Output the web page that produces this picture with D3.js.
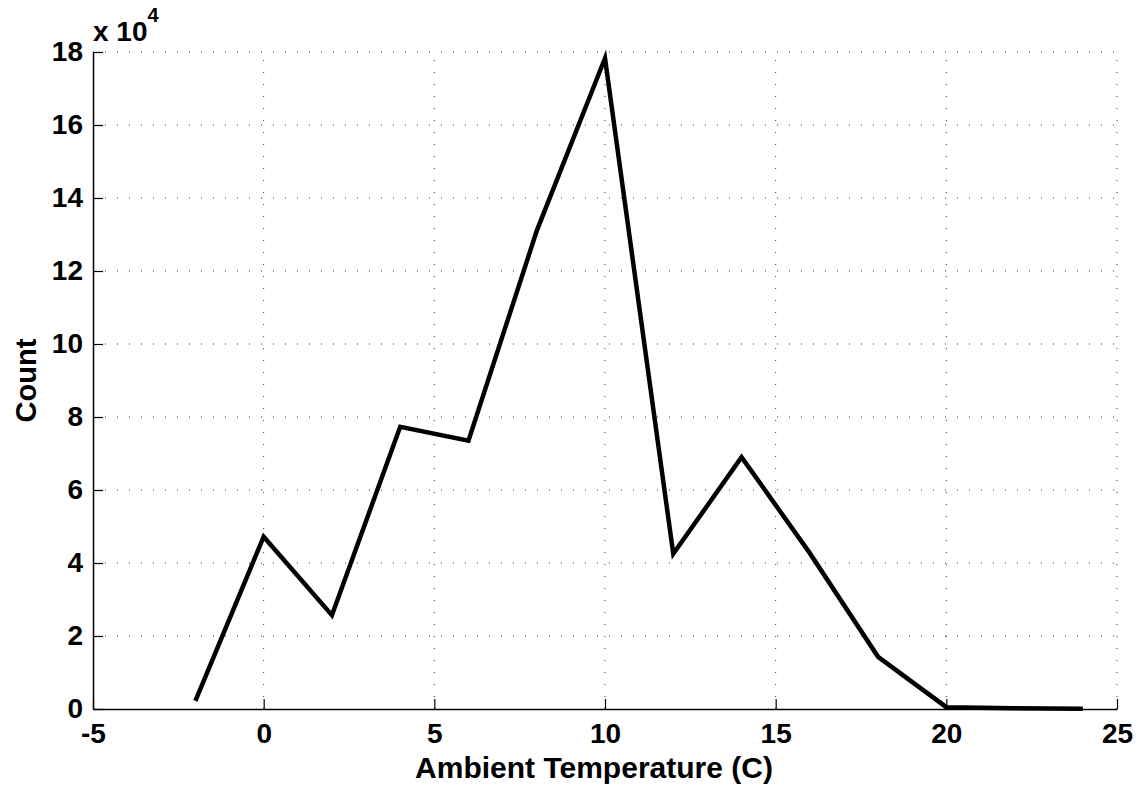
<!DOCTYPE html>
<html>
<head>
<meta charset="utf-8">
<script src="https://cdn.jsdelivr.net/npm/d3@7"></script>
<style>
  body { margin: 0; background: #fff; }
  text { font-family: "Liberation Sans", Arial, Helvetica, sans-serif; }
</style>
</head>
<body>
<div id="chart"></div>
<script>
// ambient temperature bins (C) and counts
var temps = [-2, 0, 2, 4, 6, 8, 10, 12, 14, 16, 18, 20, 22, 24];
var counts = [2200, 47200, 25700, 77300, 73500, 131000, 178300, 42500, 69000, 42700, 14300, 500, 200, 100];
var xTicks = [-5, 0, 5, 10, 15, 20, 25];
var yTicks = [0, 2, 4, 6, 8, 10, 12, 14, 16, 18];

var width = 1146, height = 785;
var plotLeft = 93, plotRight = 1117, plotTop = 52, plotBottom = 709;

var svg = d3.select("#chart")
    .append("svg")
    .attr("width", width)
    .attr("height", height);

var x = d3.scaleLinear().domain([-5, 25]).range([plotLeft, plotRight]);
var y = d3.scaleLinear().domain([0, 180000]).range([plotBottom, plotTop]);

// dotted grid
svg.selectAll(".vgrid")
    .data(xTicks.slice(1))
    .enter()
    .append("line")
    .attr("class", "vgrid")
    .attr("x1", function(d) { return x(d); })
    .attr("x2", function(d) { return x(d); })
    .attr("y1", plotBottom)
    .attr("y2", plotTop)
    .attr("stroke", "#333")
    .attr("stroke-width", 1)
    .attr("stroke-dasharray", "1,11");

svg.selectAll(".hgrid")
    .data(yTicks.slice(1))
    .enter()
    .append("line")
    .attr("class", "hgrid")
    .attr("x1", plotLeft)
    .attr("x2", plotRight)
    .attr("y1", function(d) { return y(d * 1e4); })
    .attr("y2", function(d) { return y(d * 1e4); })
    .attr("stroke", "#333")
    .attr("stroke-width", 1)
    .attr("stroke-dasharray", "1,11");

// axes, ticks pointing inward
var xAxis = svg.append("g")
    .attr("transform", "translate(0," + plotBottom + ")")
    .call(d3.axisBottom(x).tickValues(xTicks)
        .tickFormat(function(d) { return String(d); })
        .tickSizeInner(-10).tickSizeOuter(0).tickPadding(14));

var yAxis = svg.append("g")
    .attr("transform", "translate(" + plotLeft + ",0)")
    .call(d3.axisLeft(y).tickValues(yTicks.map(function(d) { return d * 1e4; }))
        .tickFormat(function(d) { return String(d / 1e4); })
        .tickSizeInner(-10).tickSizeOuter(0).tickPadding(10));

[xAxis, yAxis].forEach(function(g) {
    g.select(".domain").attr("stroke", "#000").attr("stroke-width", 1.5);
    g.selectAll(".tick line").attr("stroke", "#000").attr("stroke-width", 1.2);
    g.selectAll(".tick text")
        .attr("fill", "#000")
        .style("font-size", "28px")
        .style("font-weight", "bold");
});
xAxis.selectAll(".tick text").attr("dy", "0.71em");

// data line
var line = d3.line()
    .x(function(d, i) { return x(temps[i]); })
    .y(function(d) { return y(d); });

svg.append("path")
    .datum(counts)
    .attr("d", line)
    .attr("fill", "none")
    .attr("stroke", "#000")
    .attr("stroke-width", 4.5)
    .attr("stroke-linejoin", "miter");

// exponent label
var exp = svg.append("text")
    .attr("x", 93)
    .attr("y", 41)
    .style("font-size", "28px")
    .style("font-weight", "bold");
exp.append("tspan").text("x 10");
exp.append("tspan").attr("dy", -19).style("font-size", "20px").text("4");

// axis titles
svg.append("text")
    .attr("x", 594)
    .attr("y", 778)
    .attr("text-anchor", "middle")
    .style("font-size", "30px")
    .style("font-weight", "bold")
    .text("Ambient Temperature (C)");

svg.append("text")
    .attr("transform", "translate(36," + ((plotTop + plotBottom) / 2) + ") rotate(-90)")
    .attr("text-anchor", "middle")
    .style("font-size", "29px")
    .style("font-weight", "bold")
    .text("Count");
</script>
</body>
</html>
